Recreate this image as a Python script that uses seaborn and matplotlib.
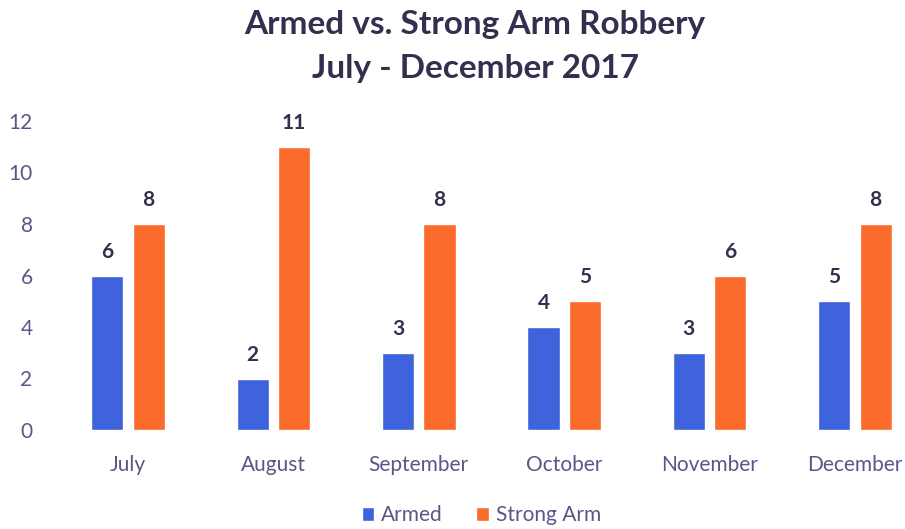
import matplotlib
matplotlib.use("Agg")
import matplotlib.pyplot as plt
import seaborn as sns
import pandas as pd
from matplotlib.patches import Patch

months = ["July", "August", "September", "October", "November", "December"]
armed = [6, 2, 3, 4, 3, 5]
strong_arm = [8, 11, 8, 5, 6, 8]
series_names = ["Armed", "Strong Arm"]
y_ticks = [0, 2, 4, 6, 8, 10, 12]
title_lines = ["Armed vs. Strong Arm Robbery", "July - December 2017"]

BLUE = "#3f63dc"
ORANGE = "#fb6b2b"
TICK_COLOR = "#5e5488"
TEXT_DARK = "#33304f"

df = pd.DataFrame({
    "Month": months * 2,
    "Count": armed + strong_arm,
    "Type": [series_names[0]] * len(months) + [series_names[1]] * len(months),
})

sns.set_style("white")
plt.rcParams["font.family"] = ["Lato", "DejaVu Sans"]

fig = plt.figure(figsize=(9.05, 5.29), dpi=100)
ax = fig.add_axes([45 / 905, (529 - 430) / 529, (905 - 45) / 905, (430 - 121) / 529])

sns.barplot(data=df, x="Month", y="Count", hue="Type", order=months,
            hue_order=series_names, palette=[BLUE, ORANGE],
            width=0.57, gap=0.22, saturation=1, ax=ax, legend=False)

for container in ax.containers:
    ax.bar_label(container, fmt="%d", padding=10, fontsize=15,
                 fontweight="bold", color=TEXT_DARK)

ax.set_ylim(0, 12)
ax.set_yticks(y_ticks)
ax.set_xlim(-0.571, 5.344)
ax.set_xlabel("")
ax.set_ylabel("")
sns.despine(ax=ax, left=True, bottom=True)
ax.tick_params(axis="both", length=0, labelsize=15, colors=TICK_COLOR)
ax.tick_params(axis="y", pad=9)
ax.tick_params(axis="x", pad=18)

# two-line title, lines placed individually for wider spacing
for line, y in zip(title_lines, [0.953, 0.870]):
    fig.text(0.525, y, line, ha="center", va="center", fontsize=24,
             fontweight="bold", color=TEXT_DARK)

handles = [Patch(facecolor=BLUE), Patch(facecolor=ORANGE)]
fig.legend(handles, series_names, loc="center", bbox_to_anchor=(0.532, 0.026),
           ncol=2, frameon=False, fontsize=15, labelcolor=TICK_COLOR,
           handlelength=0.6, handleheight=0.6, handletextpad=0.35,
           columnspacing=1.6)

fig.savefig("out.png", dpi=100)
